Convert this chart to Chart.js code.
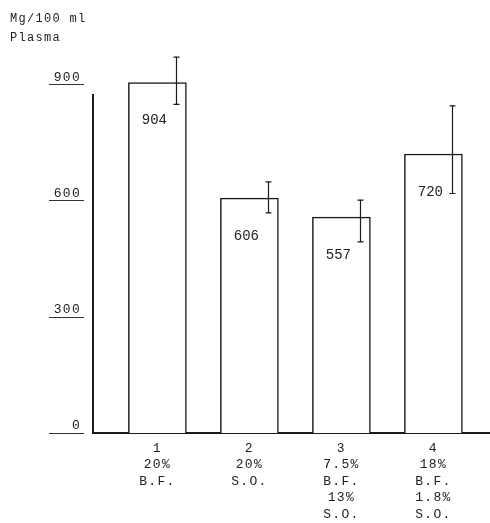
<!DOCTYPE html>
<html><head><meta charset="utf-8">
<style>html,body{margin:0;padding:0;background:#fff}#wrap{width:490px;height:523px}</style>
<script src="https://cdn.jsdelivr.net/npm/chart.js@4/dist/chart.umd.min.js"></script>
</head><body><div id="wrap"><canvas id="c" width="490" height="523"></canvas></div>
<script>
const categories = [1, 2, 3, 4];
const categoryLabels = [
  ["1", "20%", "B.F."],
  ["2", "20%", "S.O."],
  ["3", "7.5%", "B.F.", "13%", "S.O."],
  ["4", "18%", "B.F.", "1.8%", "S.O."]
];
const plasmaMg = [904, 606, 557, 720];
const errorHigh = [970, 648, 601, 844];
const errorLow = [848, 568, 493, 618];
const yTicks = [0, 300, 600, 900];
const titleLines = ["Mg/100 ml", "Plasma"];

const FONT = 'Liberation Mono';
const TEXT = '#222';
const INK = '#1a1a1a';

const decor = {
  id: 'decor',
  beforeDraw(chart) { chart.ctx.letterSpacing = '1.3px'; },
  beforeDatasetsDraw(chart) { chart.ctx.letterSpacing = '0px'; },
  afterDatasetsDraw(chart) {
    const {ctx, chartArea} = chart;
    const x = chart.scales.x, y = chart.scales.y;
    ctx.save();
    ctx.letterSpacing = '0px';
    ctx.strokeStyle = INK;
    // y axis line
    ctx.lineWidth = 2;
    ctx.beginPath();
    ctx.moveTo(chartArea.left, y.getPixelForValue(0));
    ctx.lineTo(chartArea.left, y.getPixelForValue(875));
    ctx.stroke();
    // tick underlines
    ctx.lineWidth = 1;
    ctx.strokeStyle = '#333';
    yTicks.forEach(v => {
      const py = Math.round(y.getPixelForValue(v)) + 0.5;
      ctx.beginPath();
      ctx.moveTo(chartArea.left - 44, py);
      ctx.lineTo(chartArea.left - 9, py);
      ctx.stroke();
    });
    // error bars
    ctx.strokeStyle = INK;
    ctx.lineWidth = 1.2;
    categories.forEach((c, i) => {
      const px = Math.round(x.getPixelForValue(c) + 18.7) + 0.5;
      const t = y.getPixelForValue(errorHigh[i]);
      const b = y.getPixelForValue(errorLow[i]);
      ctx.beginPath();
      ctx.moveTo(px, t); ctx.lineTo(px, b);
      ctx.moveTo(px - 3, t); ctx.lineTo(px + 3, t);
      ctx.moveTo(px - 3, b); ctx.lineTo(px + 3, b);
      ctx.stroke();
    });
    // value labels
    ctx.fillStyle = TEXT;
    ctx.font = '14px "' + FONT + '"';
    ctx.textAlign = 'center';
    ctx.textBaseline = 'middle';
    categories.forEach((c, i) => {
      ctx.fillText(String(plasmaMg[i]), x.getPixelForValue(c) - 3, y.getPixelForValue(plasmaMg[i]) + 38);
    });
    ctx.restore();
  }
};

new Chart(document.getElementById('c'), {
  type: 'bar',
  data: {
    datasets: [{
      data: categories.map((c, i) => ({x: c, y: plasmaMg[i]})),
      backgroundColor: '#ffffff',
      borderColor: INK,
      borderWidth: 1.5,
      barThickness: 58
    }]
  },
  options: {
    responsive: false,
    animation: false,
    devicePixelRatio: 1,
    layout: {padding: {left: 10, right: 0, top: 0, bottom: 0}},
    plugins: {
      legend: {display: false},
      tooltip: {enabled: false},
      title: {
        display: true,
        text: titleLines,
        align: 'start',
        color: TEXT,
        font: {family: FONT, size: 12, weight: 'normal', lineHeight: 19 / 12},
        padding: {top: 9, bottom: 0}
      }
    },
    scales: {
      x: {
        type: 'linear',
        offset: false,
        min: 0.3,
        max: 4.615,
        grid: {display: false, drawTicks: false, offset: false},
        border: {display: true, color: INK, width: 2},
        afterBuildTicks: s => { s.ticks = categories.map(v => ({value: v})); },
        ticks: {
          padding: 7,
          color: TEXT,
          autoSkip: false,
          maxRotation: 0,
          font: {family: FONT, size: 13, lineHeight: 16.5 / 13},
          callback: v => { const k = categories.indexOf(v); return k >= 0 ? categoryLabels[k] : ''; }
        },
        afterFit: s => { s.height = 90; }
      },
      y: {
        min: 0,
        max: 996,
        grid: {display: false, drawTicks: false},
        border: {display: false},
        afterBuildTicks: s => { s.ticks = yTicks.map(v => ({value: v})); },
        ticks: {
          padding: 12,
          labelOffset: -7,
          color: TEXT,
          font: {family: FONT, size: 13},
          callback: v => String(v)
        },
        afterFit: s => { s.width = 83; }
      }
    }
  },
  plugins: [decor]
});
</script>
</body></html>
